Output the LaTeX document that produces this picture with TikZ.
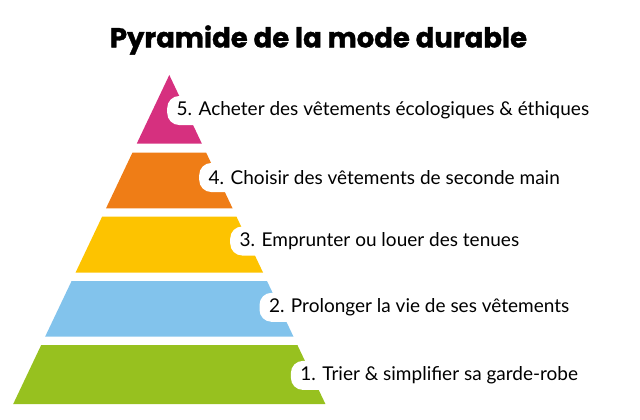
\documentclass[tikz,border=0pt]{standalone}
\usepackage{fontspec}
\setmainfont{Lato}
\newfontfamily\titlefont{Poppins}[UprightFont=* Bold, FakeBold=1.2]
\definecolor{cpink}{HTML}{D6307F}
\definecolor{corange}{HTML}{EF7D16}
\definecolor{cyellow}{HTML}{FDC300}
\definecolor{cblue}{HTML}{82C3EC}
\definecolor{cgreen}{HTML}{97C11F}
\tikzset{
  layer/.style={draw=none},
  lbl/.style={fill=white, rounded corners=12pt, anchor=west, inner xsep=9.5pt, inner ysep=0pt,
    minimum height=29pt, font=\fontsize{19}{22}\selectfont, text=black},
  ttl/.style={font=\titlefont\fontsize{27.5}{32}\selectfont, text=black}
}
\begin{document}
\begin{tikzpicture}[x=1pt,y=-1pt]
\useasboundingbox (0,0) rectangle (640,420);
\node[ttl] (title) at (318.5,40) {Pyramide de la mode durable};
\fill[cpink]   (169.3,75) -- (201.8,143.5) -- (136.8,143.5) -- cycle;
\fill[corange] (132.4,152.7) -- (206.2,152.7) -- (232.55,208.3) -- (106.05,208.3) -- cycle;
\fill[cyellow] (102.1,216.7) -- (236.5,216.7) -- (263.1,272.7) -- (75.5,272.7) -- cycle;
\fill[cblue]   (71.6,281) -- (267.0,281) -- (293.5,336.7) -- (45.1,336.7) -- cycle;
\fill[cgreen]  (41.2,345) -- (297.4,345) -- (325.4,404) -- (13.2,404) -- cycle;
\node[lbl] (l5) at (167,110.5) {5. Acheter des vêtements écologiques \& éthiques};
\node[lbl] (l4) at (199,177.5) {4. Choisir des vêtements de seconde main};
\node[lbl] (l3) at (230,241) {3. Emprunter ou louer des tenues};
\node[lbl] (l2) at (259.3,307.3) {2. Prolonger la vie de ses vêtements};
\node[lbl] (l1) at (290.7,375.4) {1. Trier \& simplifier sa garde-robe};
\end{tikzpicture}
\end{document}
